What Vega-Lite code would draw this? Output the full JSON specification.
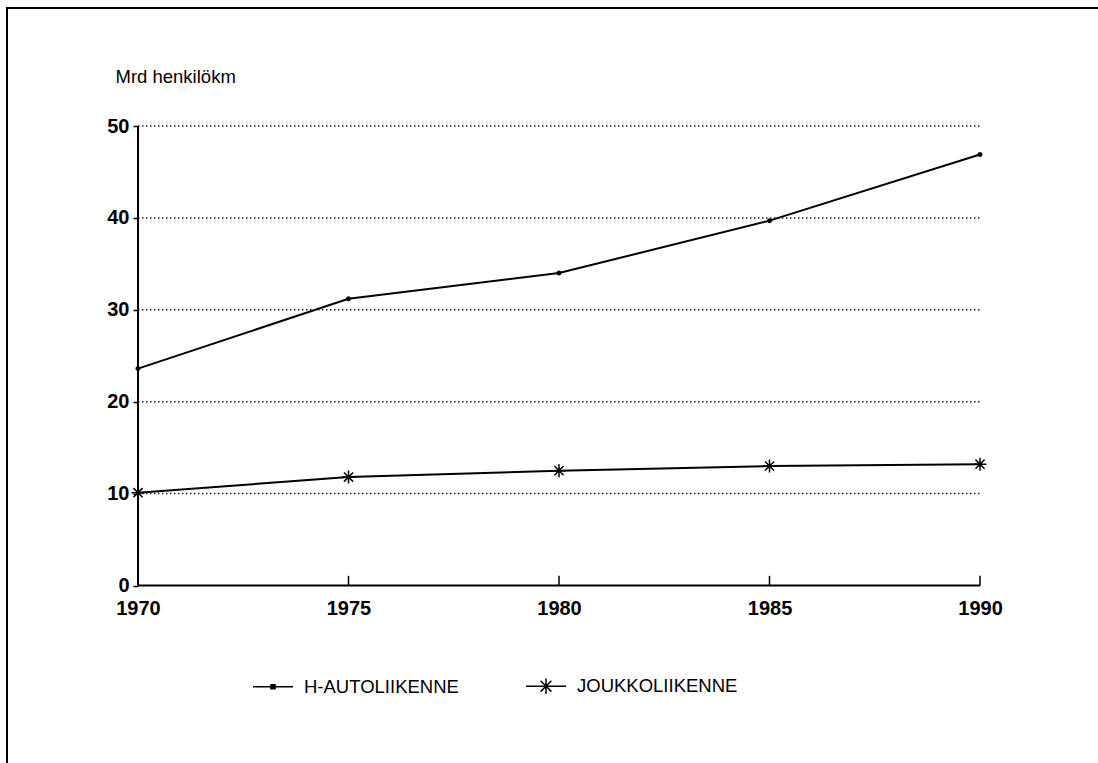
{
  "$schema": "https://vega.github.io/schema/vega-lite/v6.json",
  "width": 1100,
  "height": 770,
  "autosize": {"type": "none"},
  "padding": {"left": 7, "top": 8, "right": 0, "bottom": 0},
  "background": "white",
  "config": {
    "view": {"stroke": "black", "strokeWidth": 2},
    "font": "Liberation Sans"
  },
  "datasets": {
    "series": [
      {"year": 1970, "series": "H-AUTOLIIKENNE", "value": 23.6},
      {"year": 1975, "series": "H-AUTOLIIKENNE", "value": 31.2},
      {"year": 1980, "series": "H-AUTOLIIKENNE", "value": 34.0},
      {"year": 1985, "series": "H-AUTOLIIKENNE", "value": 39.7},
      {"year": 1990, "series": "H-AUTOLIIKENNE", "value": 46.9},
      {"year": 1970, "series": "JOUKKOLIIKENNE", "value": 10.1},
      {"year": 1975, "series": "JOUKKOLIIKENNE", "value": 11.8},
      {"year": 1980, "series": "JOUKKOLIIKENNE", "value": 12.5},
      {"year": 1985, "series": "JOUKKOLIIKENNE", "value": 13.0},
      {"year": 1990, "series": "JOUKKOLIIKENNE", "value": 13.2}
    ],
    "grid": [{"v": 10}, {"v": 20}, {"v": 30}, {"v": 40}, {"v": 50}],
    "ticks": [{"year": 1975}, {"year": 1980}, {"year": 1985}, {"year": 1990}],
    "one": [{"k": 1}]
  },
  "layer": [
    {
      "data": {"name": "series"},
      "mark": {"type": "line", "strokeWidth": 2},
      "encoding": {
        "x": {
          "field": "year", "type": "quantitative",
          "scale": {"domain": [1966.8884, 1993.0164], "nice": false, "zero": false},
          "axis": {
            "orient": "bottom", "offset": -192.5, "values": [1970, 1975, 1980, 1985, 1990],
            "format": "d", "domain": false, "ticks": false, "grid": false,
            "labelPadding": 13, "labelFontSize": 20, "labelFontWeight": "bold", "labelColor": "black",
            "labelFont": "Liberation Sans", "title": null, "labelFlush": false, "labelOverlap": false
          }
        },
        "y": {
          "field": "value", "type": "quantitative",
          "scale": {"domain": [-20.946, 62.84], "nice": false, "zero": false},
          "axis": {
            "orient": "left", "offset": -131, "values": [0, 10, 20, 30, 40, 50],
            "domain": false, "grid": false, "ticks": true, "tickSize": 5, "tickColor": "black", "tickWidth": 1.5,
            "labelPadding": 4, "labelFontSize": 20, "labelFontWeight": "bold", "labelColor": "black",
            "labelFont": "Liberation Sans", "labelBaseline": "middle", "labelFlush": false, "labelOverlap": false,
            "title": "Mrd henkilökm", "titleAngle": 0, "titleAlign": "left", "titleBaseline": "alphabetic",
            "titleX": -23, "titleY": 74, "titleFontSize": 18.5, "titleFontWeight": "normal",
            "titleFont": "Liberation Sans", "titleColor": "black"
          }
        },
        "color": {
          "field": "series", "type": "nominal",
          "scale": {"domain": ["H-AUTOLIIKENNE", "JOUKKOLIIKENNE"], "range": ["black", "black"]},
          "legend": {
            "orient": "none", "legendX": 245, "legendY": 657, "direction": "horizontal",
            "title": null, "labelFont": "Liberation Sans", "labelFontSize": 18.5, "labelColor": "black",
            "labelOffset": 10, "labelLimit": 400, "columnPadding": 64, "symbolSize": 1600, "symbolStrokeWidth": 1.5,
            "symbolStrokeColor": "black", "symbolFillColor": "black",
            "encode": {
              "symbols": {
                "update": {
                  "shape": {"signal": "datum.value === 'H-AUTOLIIKENNE' ? 'M-1,0H1M-0.1,-0.1H0.1V0.1H-0.1Z' : 'M-1,0H1M0,-0.38V0.38M-0.27,-0.27L0.27,0.27M-0.27,0.27L0.27,-0.27'"},
                  "fill": {"value": "black"},
                  "stroke": {"value": "black"},
                  "strokeWidth": {"value": 1.5},
                  "size": {"value": 1600}
                }
              }
            }
          }
        }
      }
    },
    {
      "data": {"name": "grid"},
      "mark": {"type": "rule", "stroke": "#222", "strokeWidth": 1.5, "strokeDash": [1.5, 2.5]},
      "encoding": {
        "y": {"field": "v", "type": "quantitative", "scale": {"domain": [-20.946, 62.84], "nice": false, "zero": false}},
        "x": {"datum": 1970, "type": "quantitative", "scale": {"domain": [1966.8884, 1993.0164], "nice": false, "zero": false}},
        "x2": {"datum": 1990}
      }
    },
    {
      "data": {"name": "one"},
      "mark": {"type": "rule", "stroke": "black", "strokeWidth": 2},
      "encoding": {
        "x": {"datum": 1970, "type": "quantitative"},
        "y": {"datum": 0, "type": "quantitative"},
        "y2": {"datum": 50}
      }
    },
    {
      "data": {"name": "one"},
      "mark": {"type": "rule", "stroke": "black", "strokeWidth": 2},
      "encoding": {
        "y": {"datum": 0, "type": "quantitative"},
        "x": {"datum": 1970, "type": "quantitative"},
        "x2": {"datum": 1990}
      }
    },
    {
      "data": {"name": "ticks"},
      "mark": {"type": "rule", "stroke": "black", "strokeWidth": 1.5},
      "encoding": {
        "x": {"field": "year", "type": "quantitative"},
        "y": {"datum": 0, "type": "quantitative"},
        "y2": {"datum": 1.05}
      }
    },
    {
      "data": {"name": "series"},
      "transform": [{"filter": "datum.series === 'H-AUTOLIIKENNE'"}],
      "mark": {"type": "point", "shape": "circle", "size": 12, "filled": true, "fill": "black", "stroke": "black", "strokeWidth": 1.5, "opacity": 1},
      "encoding": {
        "x": {"field": "year", "type": "quantitative"},
        "y": {"field": "value", "type": "quantitative"}
      }
    },
    {
      "data": {"name": "series"},
      "transform": [{"filter": "datum.series === 'JOUKKOLIIKENNE'"}],
      "mark": {"type": "point", "shape": "M0,-1V1M-1,0H1M-0.7,-0.7L0.7,0.7M-0.7,0.7L0.7,-0.7", "size": 169, "filled": false, "stroke": "black", "strokeWidth": 1.5, "opacity": 1},
      "encoding": {
        "x": {"field": "year", "type": "quantitative"},
        "y": {"field": "value", "type": "quantitative"}
      }
    }
  ]
}
